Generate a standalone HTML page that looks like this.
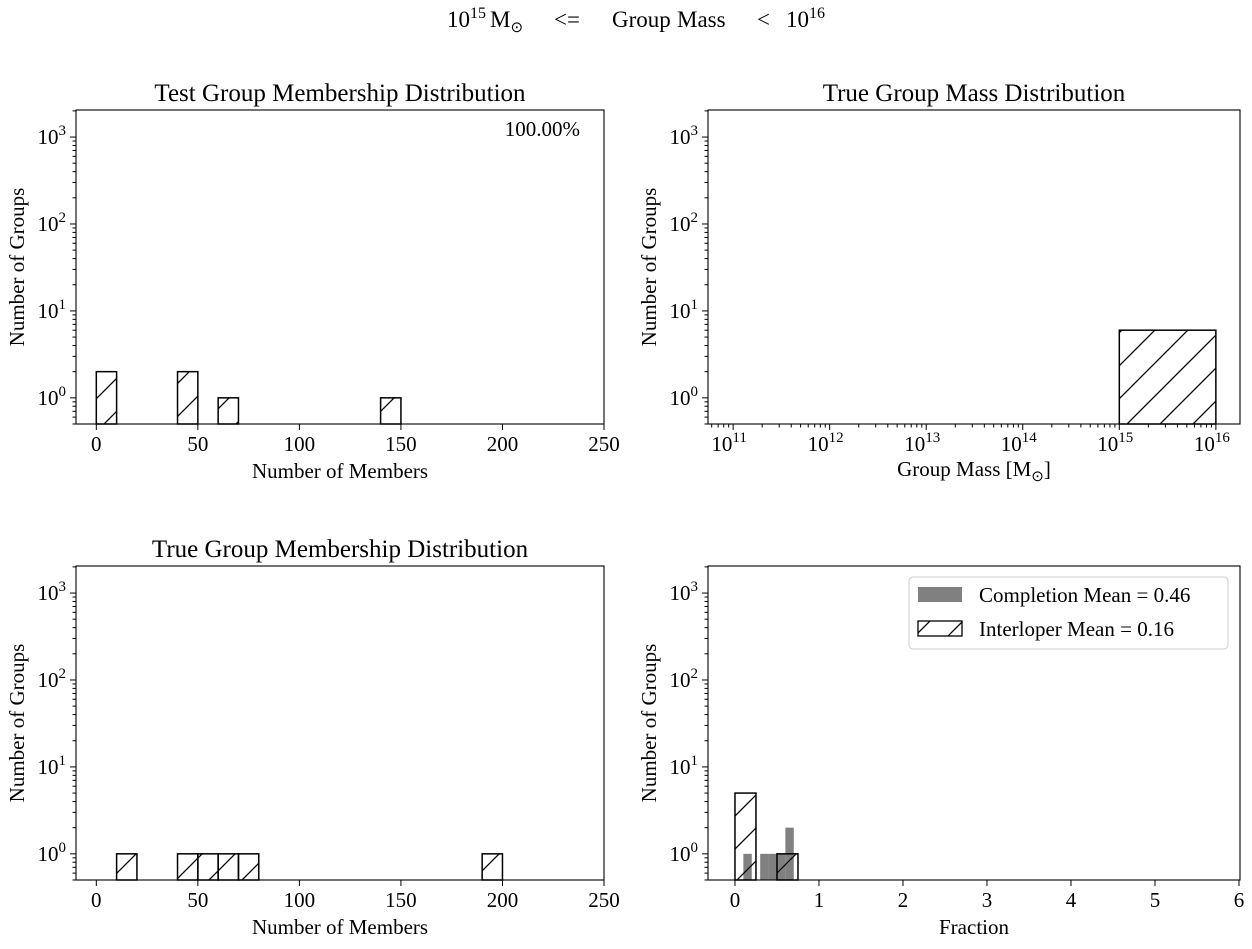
<!DOCTYPE html>
<html><head><meta charset="utf-8">
<style>
body{margin:0;background:#fff;}
svg{display:block;font-family:"Liberation Serif",serif;}
</style></head>
<body>
<svg id="chart" width="1252" height="949" xmlns="http://www.w3.org/2000/svg">
<defs>
<pattern id="hatch" patternUnits="userSpaceOnUse" width="33" height="33">
<line x1="-3" y1="36" x2="36" y2="-3" stroke="#000" stroke-width="1.3"/>
<line x1="-3" y1="3" x2="3" y2="-3" stroke="#000" stroke-width="1.3"/>
<line x1="30" y1="36" x2="36" y2="30" stroke="#000" stroke-width="1.3"/>
</pattern>
</defs>
<g font-size="23">
<text x="447" y="27">10<tspan dy="-9" font-size="16">15</tspan></text>
<text x="490" y="27">M<tspan dy="5" font-size="15">⊙</tspan></text>
<text x="554" y="27">&lt;=</text>
<text x="612" y="27">Group</text>
<text x="677" y="27">Mass</text>
<text x="757" y="27">&lt;</text>
<text x="786" y="27">10<tspan dy="-9" font-size="16">16</tspan></text>
</g>
</svg>
<script>
// Panel data
const tlBins=[[0,10],[40,50],[60,70],[140,150]];
const tlCounts=[2,2,1,1];
const trBins=[[15,16]];
const trCounts=[6];
const blBins=[[10,20],[40,50],[50,60],[60,70],[70,80],[190,200]];
const blCounts=[1,1,1,1,1,1];
const brCompBins=[[0.1,0.2],[0.3,0.4],[0.4,0.5],[0.5,0.6],[0.6,0.7]];
const brCompCounts=[1,1,1,1,2];
const brIntBins=[[0,0.25],[0.5,0.75]];
const brIntCounts=[5,1];
const linTicks=[0,50,100,150,200,250];
const fracTicks=[0,1,2,3,4,5,6];
const massTicks=[11,12,13,14,15,16];
const yTicks=[0,1,2,3];

const svg=document.getElementById('chart');
const NS='http://www.w3.org/2000/svg';
function el(tag,attrs,parent){const e=document.createElementNS(NS,tag);for(const k in attrs)e.setAttribute(k,attrs[k]);(parent||svg).appendChild(e);return e;}

function panel(o){
  const g=el('g',{});
  
  
  const {x0,x1,y0,y1}=o;
  const ylog=v=>{const lv=Math.log10(v);return y1-(lv-Math.log10(0.5))/(Math.log10(2047)-Math.log10(0.5))*(y1-y0);};
  const xs=v=>x0+(v-o.xmin)/(o.xmax-o.xmin)*(x1-x0);
  o.series.forEach(s=>{
    s.bins.forEach((b,i)=>{
      const xa=xs(b[0]),xb=xs(b[1]),yt=ylog(s.counts[i]);
      const r=el('rect',{x:xa,y:yt,width:xb-xa,height:y1-yt,fill:s.fill,stroke:s.stroke||'none','stroke-width':1.5},g);
      
      
    });
  });
  el('rect',{x:x0,y:y0,width:x1-x0,height:y1-y0,fill:'none',stroke:'#000','stroke-width':1.1},g);
  for(let d=-1;d<=3;d++){for(let m=1;m<10;m++){const v=m*Math.pow(10,d);if(v<0.5||v>2047)continue;const y=ylog(v);const len=m===1?6:3.5;el('line',{x1:x0-len,y1:y,x2:x0,y2:y,stroke:'#000','stroke-width':1},g);}}
  yTicks.forEach(p=>{const y=ylog(Math.pow(10,p));const t=el('text',{x:x0-10,y:y+7,'font-size':21,'text-anchor':'end'},g);t.innerHTML='10<tspan dy="-9" font-size="15">'+p+'</tspan>';});
  if(o.logx){
    for(let d=10;d<=16;d++){for(let m=1;m<10;m++){const v=d+Math.log10(m);if(v<o.xmin||v>o.xmax)continue;const x=xs(v);el('line',{x1:x,y1:y1,x2:x,y2:y1+(m===1?6:3.5),stroke:'#000','stroke-width':1},g);}}
    o.ticks.forEach(p=>{const t=el('text',{x:xs(p)-4,y:y1+27,'font-size':21,'text-anchor':'middle'},g);t.innerHTML='10<tspan dy="-9" font-size="15">'+p+'</tspan>';});
  } else {
    o.ticks.forEach(p=>{const x=xs(p);el('line',{x1:x,y1:y1,x2:x,y2:y1+6,stroke:'#000','stroke-width':1},g);const t=el('text',{x:x,y:y1+27,'font-size':21,'text-anchor':'middle'},g);t.textContent=p;});
  }
  if(o.title){const t=el('text',{x:(x0+x1)/2,y:y0-9,'font-size':25,'text-anchor':'middle'},g);t.textContent=o.title;}
  const xl=el('text',{x:(x0+x1)/2,y:y1+(o.logx?52:54),'font-size':21,'text-anchor':'middle'},g);xl.innerHTML=o.xlabel;
  const yl=el('text',{x:0,y:0,'font-size':21,'text-anchor':'middle',transform:'translate('+(x0-52)+','+((y0+y1)/2)+') rotate(-90)'},g);yl.textContent='Number of Groups';
  return g;
}

panel({name:'test-membership-panel',x0:76,x1:604,y0:110,y1:424,xmin:-10,xmax:250,ticks:linTicks,title:'Test Group Membership Distribution',xlabel:'Number of Members',
  series:[{name:'test-membership',bins:tlBins,counts:tlCounts,fill:'url(#hatch)',stroke:'#000'}]});
const pct=el('text',{x:580,y:136,'font-size':21,'text-anchor':'end'});
pct.textContent='100.00%';



panel({name:'true-mass-panel',x0:708,x1:1240,y0:110,y1:424,xmin:10.74,xmax:16.25,logx:true,ticks:massTicks,title:'True Group Mass Distribution',xlabel:'Group Mass [M<tspan dy="5" font-size="15">⊙</tspan><tspan dy="-5">]</tspan>',
  series:[{name:'true-mass',bins:trBins,counts:trCounts,fill:'url(#hatch)',stroke:'#000'}]});

panel({name:'true-membership-panel',x0:76,x1:604,y0:566,y1:880,xmin:-10,xmax:250,ticks:linTicks,title:'True Group Membership Distribution',xlabel:'Number of Members',
  series:[{name:'true-membership',bins:blBins,counts:blCounts,fill:'url(#hatch)',stroke:'#000'}]});

panel({name:'fraction-panel',x0:708,x1:1240,y0:566,y1:880,xmin:-0.321,xmax:6.012,ticks:fracTicks,title:null,xlabel:'Fraction',
  series:[{name:'completion',bins:brCompBins,counts:brCompCounts,fill:'#808080'},{name:'interloper',bins:brIntBins,counts:brIntCounts,fill:'url(#hatch)',stroke:'#000'}]});

const lg=el('g',{});


el('rect',{x:909,y:577,width:319,height:72,rx:4,fill:'#fff',stroke:'#ccc','stroke-width':1},lg);
el('rect',{x:918,y:587,width:44,height:15,fill:'#808080'},lg);
el('rect',{x:918,y:621,width:44,height:15,fill:'url(#hatch)',stroke:'#000','stroke-width':1.3},lg);
const l1=el('text',{x:979,y:602,'font-size':21},lg);l1.textContent='Completion Mean = 0.46';


const l2=el('text',{x:979,y:636,'font-size':21},lg);l2.textContent='Interloper Mean = 0.16';


</script>
</body></html>
